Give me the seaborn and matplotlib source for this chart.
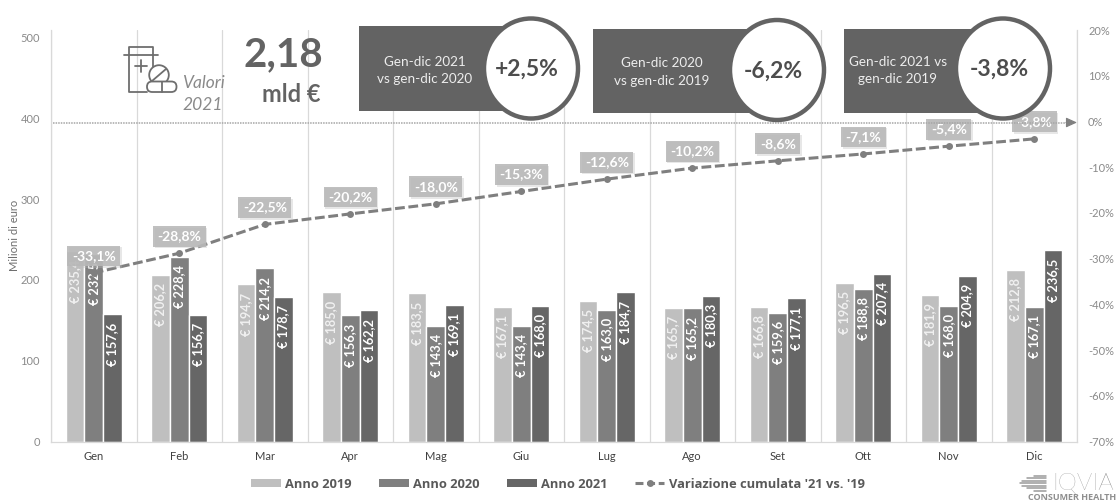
import numpy as np
import pandas as pd
import matplotlib
matplotlib.use("Agg")
import matplotlib.pyplot as plt
import matplotlib.patheffects as pe
from matplotlib.lines import Line2D
from matplotlib.patches import Patch, Rectangle, Ellipse, Circle, FancyBboxPatch
import seaborn as sns

mesi = ["Gen", "Feb", "Mar", "Apr", "Mag", "Giu", "Lug", "Ago", "Set", "Ott", "Nov", "Dic"]
anno_2019 = [235.4, 206.2, 194.7, 185.0, 183.5, 167.1, 174.5, 165.7, 166.8, 196.5, 181.9, 212.8]
anno_2020 = [232.5, 228.4, 214.2, 156.3, 143.4, 143.4, 163.0, 165.2, 159.6, 188.8, 168.0, 167.1]
anno_2021 = [157.6, 156.7, 178.7, 162.2, 169.1, 168.0, 184.7, 180.3, 177.1, 207.4, 204.9, 236.5]
variazione = [-33.1, -28.8, -22.5, -20.2, -18.0, -15.3, -12.6, -10.2, -8.6, -7.1, -5.4, -3.8]
anni = ["Anno 2019", "Anno 2020", "Anno 2021"]
colori = ["#BFBFBF", "#7F7F7F", "#666666"]
riquadri = [
    ("Gen-dic 2021\nvs gen-dic 2020", "+2,5%"),
    ("Gen-dic 2020\nvs gen-dic 2019", "-6,2%"),
    ("Gen-dic 2021 vs\ngen-dic 2019", "-3,8%"),
]

W, H = 1118, 503
sns.set_theme(style="white")
plt.rcParams["font.family"] = ["Lato", "DejaVu Sans"]
GRID = "#D9D9D9"
TESTO = "#8A8A8A"
SCURO = "#636363"


def virgola(v):
    return f"{v:.1f}".replace(".", ",")


fig = plt.figure(figsize=(W / 100, H / 100), dpi=100, facecolor="white")
ax = fig.add_axes([51 / W, (H - 441.7) / H, 1026 / W, 411.7 / H])

df = pd.DataFrame({
    "Mese": mesi * 3,
    "Anno": np.repeat(anni, 12),
    "Valore": anno_2019 + anno_2020 + anno_2021,
})
sns.barplot(data=df, x="Mese", y="Valore", hue="Anno", hue_order=anni, palette=colori,
            width=0.66, gap=0, saturation=1, legend=False, ax=ax, zorder=2)

ax.set_xlim(-0.5, 11.5)
ax.set_ylim(0, 411.7 / 80.9 * 100)
ax.set_yticks(range(0, 501, 100))
ax.set_xlabel("")
ax.set_ylabel("")
ax.tick_params(axis="y", length=0, labelsize=8, labelcolor=TESTO, pad=8)
ax.tick_params(axis="x", which="major", length=0, labelsize=8, labelcolor="#404040", pad=7)
ax.set_xticks(np.arange(-0.5, 12, 1), minor=True)
ax.tick_params(axis="x", which="minor", length=3.5, width=0.9, color=GRID)
ax.grid(True, axis="x", which="minor", color=GRID, linewidth=0.9, zorder=0)
ax.grid(False, axis="x", which="major")
ax.grid(False, axis="y")
ax.set_axisbelow(True)
for nome, spina in ax.spines.items():
    spina.set_visible(nome in ("left", "bottom"))
    spina.set_color(GRID)
    spina.set_linewidth(0.9)

# Etichette interne alle barre
for barre in ax.containers:
    for p in barre:
        v = p.get_height()
        colore = "#F0F0F0" if p.get_facecolor()[0] > 0.7 else "white"
        ax.annotate(f"€ {virgola(v)}", (p.get_x() + p.get_width() / 2, v),
                    xytext=(0, -6), textcoords="offset points",
                    rotation=90, ha="center", va="top", fontsize=9.2,
                    fontweight="bold", color=colore, zorder=3)

# Variazione cumulata sull'asse destro
ax2 = ax.twinx()
ax2.set_ylim(-70, 20)
ax2.set_yticks(range(-70, 21, 10))
ax2.set_yticklabels([f"{t}%" for t in range(-70, 21, 10)])
ax2.tick_params(axis="y", length=0, labelsize=8, labelcolor=TESTO, pad=8)
ax2.grid(False)
for nome, spina in ax2.spines.items():
    spina.set_visible(nome == "right")
    spina.set_color(GRID)
    spina.set_linewidth(0.9)

sns.lineplot(x=np.arange(12), y=variazione, ax=ax2, color="#7F7F7F", linewidth=2.2,
             linestyle=(0, (3.2, 1.2)), marker="o", markersize=5, markeredgewidth=0,
             errorbar=None, legend=False, zorder=3)
ax2.set_xlim(-0.5, 11.5)
ax2.set_ylabel("")

for i, v in enumerate(variazione):
    et = ax2.annotate(f"{virgola(v)}%", (i, v), xytext=(0, 12.2), textcoords="offset points",
                      ha="center", va="center", fontsize=10, fontweight="bold", color="white",
                      zorder=5,
                      bbox=dict(boxstyle="square,pad=0.32", facecolor="#B8B8B8", edgecolor="none", alpha=0.88))
    et.get_bbox_patch().set_path_effects([
        pe.SimplePatchShadow(offset=(1.2, -1.2), shadow_rgbFace="#BBBBBB", alpha=0.35),
        pe.Normal(),
    ])

# Livello in pixel per riquadri, icona e marchio
ov = fig.add_axes([0, 0, 1, 1], facecolor="none")
ov.set_xlim(0, W)
ov.set_ylim(H, 0)
ov.axis("off")

ov.text(15, 235, "Milioni di euro", rotation=90, fontsize=8, color="#6E6E6E", ha="center", va="center")

# Linea dello zero con freccia
ov.plot([53, 1070], [122.5, 122.5], color="#A6A6A6", lw=1.1, ls=(0, (1, 0.7)), zorder=1)
ov.annotate("", xy=(1077, 122.5), xytext=(1066, 122.5),
            arrowprops=dict(arrowstyle="-|>,head_width=0.25,head_length=0.55", color="#808080", lw=0.8,
                            shrinkA=0, shrinkB=0), zorder=1)

scatole = [(359, 26, 175, 85, 531, 68.5), (593, 29, 180, 84, 777, 70), (844, 29, 158, 84, 1003, 68.5)]
centri = [425, 662, 898]
for (x, y, w, h, cx, cy), xt, (testo, valore) in zip(scatole, centri, riquadri):
    ov.add_patch(Rectangle((x, y), w, h, facecolor=SCURO, edgecolor="none", zorder=2))
    ov.add_patch(Ellipse((cx, cy), 94, 100, facecolor="white", edgecolor=SCURO, linewidth=3.2, zorder=3))
    ov.text(xt, cy + 2, testo, color="#EDEDED", fontsize=9.7, ha="center", va="center",
            linespacing=1.55, zorder=4)
    ov.text(cx - 4, cy + 1, valore, color="#4D4D4D", fontsize=16.5, ha="center", va="center",
            fontweight="bold", zorder=4)

# Totale annuo
ov.text(283, 55, "2,18", color=SCURO, fontsize=29, fontweight="bold", ha="center", va="center")
ov.text(291, 94, "mld €", color=SCURO, fontsize=17, fontweight="bold", ha="center", va="center")
ov.text(182, 83, "Valori", color=TESTO, fontsize=12.5, style="italic", ha="left", va="center")
ov.text(182, 105, "2021", color=TESTO, fontsize=12.5, style="italic", ha="left", va="center")

# Icona del flacone con le pillole
ic = dict(color="#6E6E6E", lw=1.3, solid_capstyle="round")
ov.plot([129, 129, 153, 153], [55, 46.5, 46.5, 55], **ic)
ov.plot([123.5, 158], [55, 55], **ic)
ov.plot([129, 129, 147], [55, 92, 92], **ic)
ov.plot([153, 153], [55, 68], **ic)
ov.plot([135, 147], [66, 66], **ic)
ov.plot([141, 141], [60, 72], **ic)
ov.add_patch(Circle((159, 75), 9.8, facecolor="white", edgecolor="#6E6E6E", lw=1.3, zorder=3))
ov.plot([152, 166], [81, 69], zorder=4, **ic)
ov.add_patch(FancyBboxPatch((147, 81.5), 29.5, 10.5, boxstyle="round,pad=0,rounding_size=5.2",
                            facecolor="white", edgecolor="#6E6E6E", lw=1.3, zorder=4))
ov.plot([162, 162], [81.5, 92], zorder=5, **ic)

# Marchio
for yy, x0, x1 in [(475.5, 1034, 1046), (478, 1027, 1046), (480.5, 1022, 1046), (483, 1020, 1046),
                   (485.5, 1022, 1046), (488, 1027, 1046), (490.5, 1034, 1046)]:
    ov.plot([x0, x1], [yy, yy], color="#9A9A9A", lw=1.1)
ov.text(1114, 483, "IQVIA", color="#7F7F7F", fontsize=17.5, fontweight="light", ha="right", va="center")
ov.text(1116, 497.5, "CONSUMER HEALTH", color="#8F8F8F", fontsize=6.5, fontweight="bold", ha="right", va="center",
        family=["Open Sans", "DejaVu Sans"])

# Legenda in basso
maniglie = [Patch(facecolor=c, edgecolor="none") for c in colori]
maniglie.append(Line2D([], [], color="#7F7F7F", lw=2.2, ls=(0, (2.6, 1.2)), marker="o", markersize=5, markeredgewidth=0))
fig.legend(maniglie, anni + ["Variazione cumulata '21 vs. '19"], ncol=4, loc="center",
           bbox_to_anchor=(558 / W, (H - 484) / H), frameon=False, handlelength=2.3, handleheight=0.55,
           handletextpad=0.35, columnspacing=2.1,
           prop=dict(family=["Open Sans", "DejaVu Sans"], weight="bold", size=9.3), labelcolor="#595959")

fig.savefig("out.png", dpi=100, facecolor="white")
